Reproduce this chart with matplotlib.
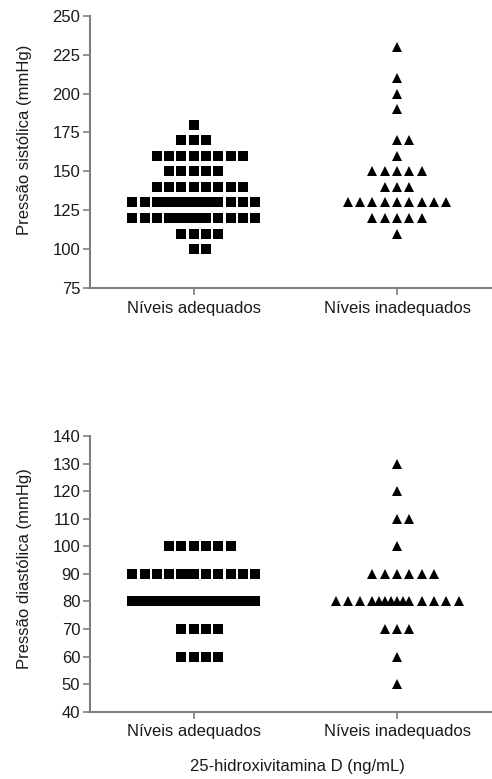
import numpy as np
import matplotlib
matplotlib.use("Agg")
import matplotlib.pyplot as plt
from matplotlib import font_manager

# --- data: value levels and how many subjects sit on each ---
groups = ["Níveis adequados", "Níveis inadequados"]

sys_levels = [230, 210, 200, 190, 180, 170, 160, 150, 140, 130, 120, 110, 100]
sys_adequate = [0, 0, 0, 0, 1, 3, 8, 5, 8, 16, 14, 4, 2]
sys_inadequate = [1, 1, 1, 1, 0, 2, 1, 5, 3, 9, 5, 1, 0]

dia_levels = [130, 120, 110, 100, 90, 80, 70, 60, 50]
dia_adequate = [0, 0, 0, 6, 12, 35, 4, 4, 0]
dia_inadequate = [1, 1, 2, 1, 6, 14, 3, 1, 1]

sys_ticks = [75, 100, 125, 150, 175, 200, 225, 250]
dia_ticks = [40, 50, 60, 70, 80, 90, 100, 110, 120, 130, 140]

names = [f.name for f in font_manager.fontManager.ttflist]
narrow = "Liberation Sans Narrow" if "Liberation Sans Narrow" in names else "Liberation Sans"
plt.rcParams['font.family'] = [narrow, 'DejaVu Sans']

GREY = '#7f7f7f'
TXT = '#1a1a1a'
FS = 12


def row_offsets(n, cap=11):
    # scatter-dot layout: one slot per point, crowded rows squeeze in the middle
    slots = np.arange(cap) - cap // 2
    if n <= cap:
        start = -((n - 1) // 2)
        return np.arange(start, start + n, dtype=float)
    span = min(n - cap, cap - 1)
    b0 = -int(np.ceil(span / 2))
    b1 = b0 + span
    loose = [s for s in slots if s < b0 or s > b1]
    dense = np.linspace(b0, b1, n - len(loose))
    return np.concatenate([np.array(loose, dtype=float), dense])


def swarm(ax, xc, levels, counts, marker, ms, step):
    values = np.repeat(levels, counts)
    xs, ys = [], []
    for v in np.unique(values):
        n = int(np.sum(values == v))
        off = row_offsets(n) * step
        xs.extend(xc + off)
        ys.extend([v] * n)
    ax.plot(xs, ys, linestyle='none', marker=marker, ms=ms, color='black',
            markeredgewidth=0, clip_on=False)


fig = plt.figure(figsize=(4.92, 7.79), dpi=100)
W, H = 492, 779
xlim = (-0.51, 1.467)
left = 90 / W
width = 1 - left
px_per_unit = (width * W) / (xlim[1] - xlim[0])
step = 12.3 / px_per_unit

ax1 = fig.add_axes([left, 1 - 288 / H, width, (288 - 15.7) / H])
ax2 = fig.add_axes([left, 1 - 711.7 / H, width, (711.7 - 436) / H])

panels = [
    (ax1, sys_levels, sys_adequate, sys_inadequate, (75, 250), sys_ticks,
     "Pressão sistólica (mmHg)", 140),
    (ax2, dia_levels, dia_adequate, dia_inadequate, (40, 140), dia_ticks,
     "Pressão diastólica (mmHg)", 569),
]

for ax, levels, c_ad, c_in, ylim, ticks, ylabel, ylab_y in panels:
    swarm(ax, 0, levels, c_ad, 's', 6.6, step)
    swarm(ax, 1, levels, c_in, '^', 7.0, step)
    ax.set_xlim(*xlim)
    ax.set_ylim(*ylim)
    ax.set_yticks(ticks)
    ax.set_xticks([0, 1])
    ax.set_xticklabels(groups)
    ax.spines['top'].set_visible(False)
    ax.spines['right'].set_visible(False)
    for s in ('left', 'bottom'):
        ax.spines[s].set_color(GREY)
        ax.spines[s].set_linewidth(1.5)
    ax.tick_params(axis='both', colors=GREY, labelcolor=TXT, labelsize=FS,
                   length=5, width=1.2, direction='out')
    ax.tick_params(axis='y', pad=2)
    ax.tick_params(axis='x', pad=4)
    ax.set_ylabel(ylabel, fontsize=FS, color=TXT)
    # place the label at the pixel spot measured on the reference
    ax.yaxis.set_label_coords(32 / W, 1 - ylab_y / H, transform=fig.transFigure)

fig.text(297 / W, 1 - 767 / H, "25-hidroxivitamina D (ng/mL)", ha='center', va='center',
         fontsize=FS, color=TXT)

fig.savefig("out.png", dpi=100)
